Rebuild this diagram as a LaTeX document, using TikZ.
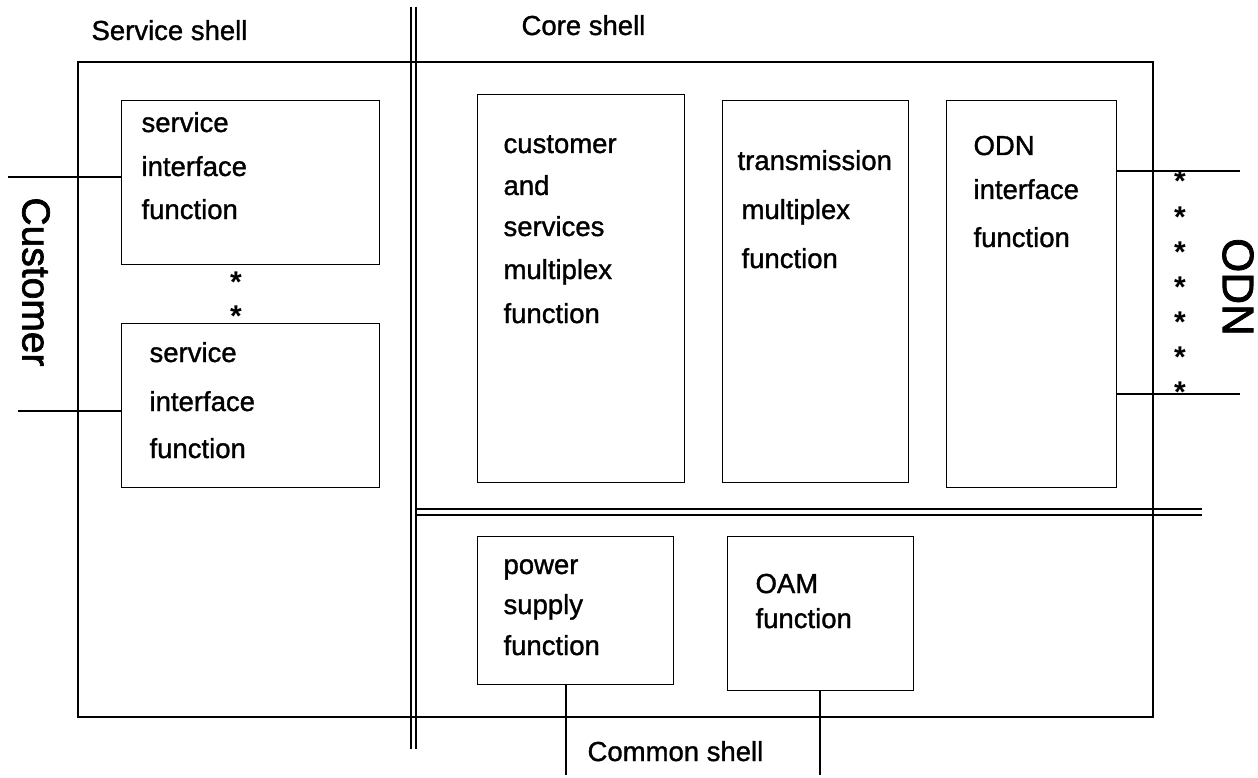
\documentclass[tikz,border=0pt]{standalone}
\usepackage{fontspec}
\setmainfont{Liberation Sans}
\newfontfamily\lblfont[FakeBold=1.2]{Liberation Sans}
\newfontfamily\sidefont[FakeBold=1.8]{Liberation Sans}
\newfontfamily\starfont{Liberation Sans Bold}
\begin{document}
\begin{tikzpicture}[x=1pt,y=-1pt,line width=1.1pt,
  fbox/.style={draw,anchor=north west,inner sep=0pt},
  txt/.style={anchor=base west,inner sep=0pt,font=\lblfont\fontsize{27.5}{33}\selectfont},
  star/.style={anchor=base,inner sep=0pt,font=\starfont\fontsize{30}{33}\selectfont},
  side/.style={inner sep=0pt,rotate=-90}]
\useasboundingbox (0,0) rectangle (1258,778);

% outer frame and shell dividers
\draw (78,62) rectangle (1153,717);
\draw (411,7) -- (411,749);
\draw (416,7) -- (416,749);
\draw (416,509) -- (1202,509);
\draw (416,515) -- (1202,515);

% shell titles
\node[txt] (tserv) at (91,40) {Service shell};
\node[txt] (tcore) at (521,35) {Core shell};
\node[txt] (tcomm) at (587,761) {Common shell};

% side labels
\node[side,font=\sidefont\fontsize{39}{44}\selectfont] (cust) at (36,282) {Customer};
\node[side,font=\sidefont\fontsize{44}{50}\selectfont] (odn) at (1238,287) {ODN};

% function boxes
\node[fbox,minimum width=258pt,minimum height=164pt] (s1) at (121,100) {};
\node[fbox,minimum width=258pt,minimum height=164pt] (s2) at (121,323) {};
\node[fbox,minimum width=207pt,minimum height=388pt] (cs) at (477,94) {};
\node[fbox,minimum width=186pt,minimum height=382pt] (tm) at (722,100) {};
\node[fbox,minimum width=170pt,minimum height=387pt] (oi) at (946,100) {};
\node[fbox,minimum width=196pt,minimum height=148pt] (ps) at (477,536) {};
\node[fbox,minimum width=186pt,minimum height=154pt] (oam) at (727,536) {};

% box texts
\node[txt] at (141,132) {service};
\node[txt] at (141,176) {interface};
\node[txt] at (141,219) {function};

\node[txt] at (149,362) {service};
\node[txt] at (149,411) {interface};
\node[txt] at (149,458) {function};

\node[txt] at (503,153) {customer};
\node[txt] at (503,195) {and};
\node[txt] at (503,236) {services};
\node[txt] at (503,279) {multiplex};
\node[txt] at (503,323) {function};

\node[txt] at (737,170) {transmission};
\node[txt] at (741,219) {multiplex};
\node[txt] at (741,268) {function};

\node[txt] at (973,155) {ODN};
\node[txt] at (973,199) {interface};
\node[txt] at (973,247) {function};

\node[txt] at (503,574) {power};
\node[txt] at (503,614) {supply};
\node[txt] at (503,655) {function};

\node[txt] at (755,593) {OAM};
\node[txt] at (755,628) {function};

% repetition marks
\foreach \y in {276,310} \node[star] at (236,\y+16) {*};
\foreach \y in {176,211,246,281,316,351,386} \node[star] at (1180,\y+16) {*};

% external interfaces
\coordinate (c1) at (8,177);
\coordinate (c2) at (18,411);
\draw (c1) -- (c1 -| s1.west);
\draw (c2) -- (c2 -| s2.west);
\coordinate (o1) at (1240,171);
\coordinate (o2) at (1240,394);
\draw (o1 -| oi.east) -- (o1);
\draw (o2 -| oi.east) -- (o2);
\coordinate (p1) at (566,775);
\coordinate (p2) at (820,775);
\draw (p1 |- ps.south) -- (p1);
\draw (p2 |- oam.south) -- (p2);
\end{tikzpicture}
\end{document}
